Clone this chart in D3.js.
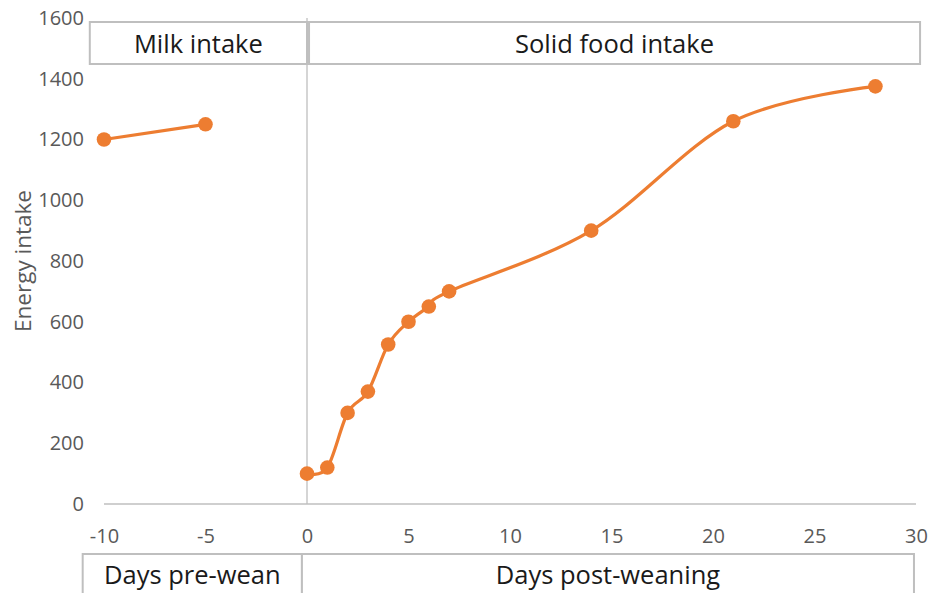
<!DOCTYPE html>
<html>
<head>
<meta charset="utf-8">
<script src="https://cdn.jsdelivr.net/npm/d3@7"></script>
<style>
  html, body { margin: 0; padding: 0; background: #fff; }
  svg { display: block; }
</style>
</head>
<body>
<svg id="chart" width="932" height="593"></svg>
<script>
// Energy intake before and after weaning
const preWeanDays = [-10, -5];
const preWeanIntake = [1200, 1250];
const postWeanDays = [0, 1, 2, 3, 4, 5, 6, 7, 14, 21, 28];
const postWeanIntake = [100, 120, 300, 370, 525, 600, 650, 700, 900, 1260, 1375];
const xTicks = [-10, -5, 0, 5, 10, 15, 20, 25, 30];
const yTicks = [0, 200, 400, 600, 800, 1000, 1200, 1400, 1600];
const phaseTop = [
  { label: "Milk intake", from: -10.7, to: 0 },
  { label: "Solid food intake", from: 0.1, to: 30.2 }
];
const phaseBottom = [
  { label: "Days pre-wean", from: -11.05, to: -0.25 },
  { label: "Days post-weaning", from: -0.25, to: 29.9 }
];

const svg = d3.select("#chart");
const orange = "#ed7d31";
const axisGrey = "#bfbfbf";
const labelGrey = "#595959";
const font = "'Open Sans', sans-serif";
const plain = d => String(d);

const x = d3.scaleLinear().domain([-10, 30]).range([104, 916]);
const y = d3.scaleLinear().domain([0, 1600]).range([504, 18]);

// y tick labels (no axis line)
const yAxis = d3.axisLeft(y).tickValues(yTicks).tickFormat(plain).tickSize(0).tickPadding(0);
const gy = svg.append("g").attr("transform", "translate(84,0)").call(yAxis);
gy.select(".domain").remove();
gy.selectAll("text")
  .attr("fill", labelGrey).attr("font-family", font).attr("font-size", 20);

// x tick labels
const xAxis = d3.axisBottom(x).tickValues(xTicks).tickFormat(plain).tickSize(0).tickPadding(0);
const gx = svg.append("g").attr("transform", "translate(0,529)").call(xAxis);
gx.select(".domain").remove();
gx.selectAll("text")
  .attr("fill", labelGrey).attr("font-family", font).attr("font-size", 20);

// baseline
svg.append("line")
  .attr("x1", x(-10)).attr("x2", x(30)).attr("y1", y(0)).attr("y2", y(0))
  .attr("stroke", axisGrey).attr("stroke-width", 1.3);

// weaning day marker
svg.append("line")
  .attr("x1", x(0)).attr("x2", x(0)).attr("y1", y(1600)).attr("y2", y(0))
  .attr("stroke", axisGrey).attr("stroke-width", 1.3);

// y axis title
svg.append("text")
  .attr("transform", `translate(23,${y(800)}) rotate(-90)`)
  .attr("text-anchor", "middle").attr("dy", "0.35em")
  .attr("fill", labelGrey).attr("font-family", font).attr("font-size", 22.5)
  .text("Energy intake");

// phase boxes
function phaseBoxes(data, top, bottom, textY) {
  const g = svg.append("g");
  const boxes = g.selectAll("g").data(data).join("g");
  boxes.append("rect")
    .attr("x", d => x(d.from)).attr("y", top)
    .attr("width", d => x(d.to) - x(d.from)).attr("height", bottom - top)
    .attr("fill", "#fff").attr("stroke", axisGrey).attr("stroke-width", 2);
  boxes.append("text")
    .attr("x", d => (x(d.from) + x(d.to)) / 2).attr("y", textY)
    .attr("dy", "0.35em").attr("text-anchor", "middle")
    .attr("fill", "#1a1a1a").attr("font-family", font).attr("font-size", 25.5)
    .text(d => d.label);
}
phaseBoxes(phaseTop, 22, 64, 44);
phaseBoxes(phaseBottom, 554, 600, 575);

// series
const pre = preWeanDays.map((d, i) => [d, preWeanIntake[i]]);
const post = postWeanDays.map((d, i) => [d, postWeanIntake[i]]);

const straight = d3.line().x(d => x(d[0])).y(d => y(d[1]));
const smooth = d3.line().x(d => x(d[0])).y(d => y(d[1])).curve(d3.curveCatmullRom.alpha(0));

svg.append("path").attr("d", straight(pre))
  .attr("fill", "none").attr("stroke", orange).attr("stroke-width", 3.2);
svg.append("path").attr("d", smooth(post))
  .attr("fill", "none").attr("stroke", orange).attr("stroke-width", 3.2);

svg.append("g").selectAll("circle").data(pre.concat(post)).join("circle")
  .attr("cx", d => x(d[0])).attr("cy", d => y(d[1])).attr("r", 7.3)
  .attr("fill", orange);
</script>
</body>
</html>
